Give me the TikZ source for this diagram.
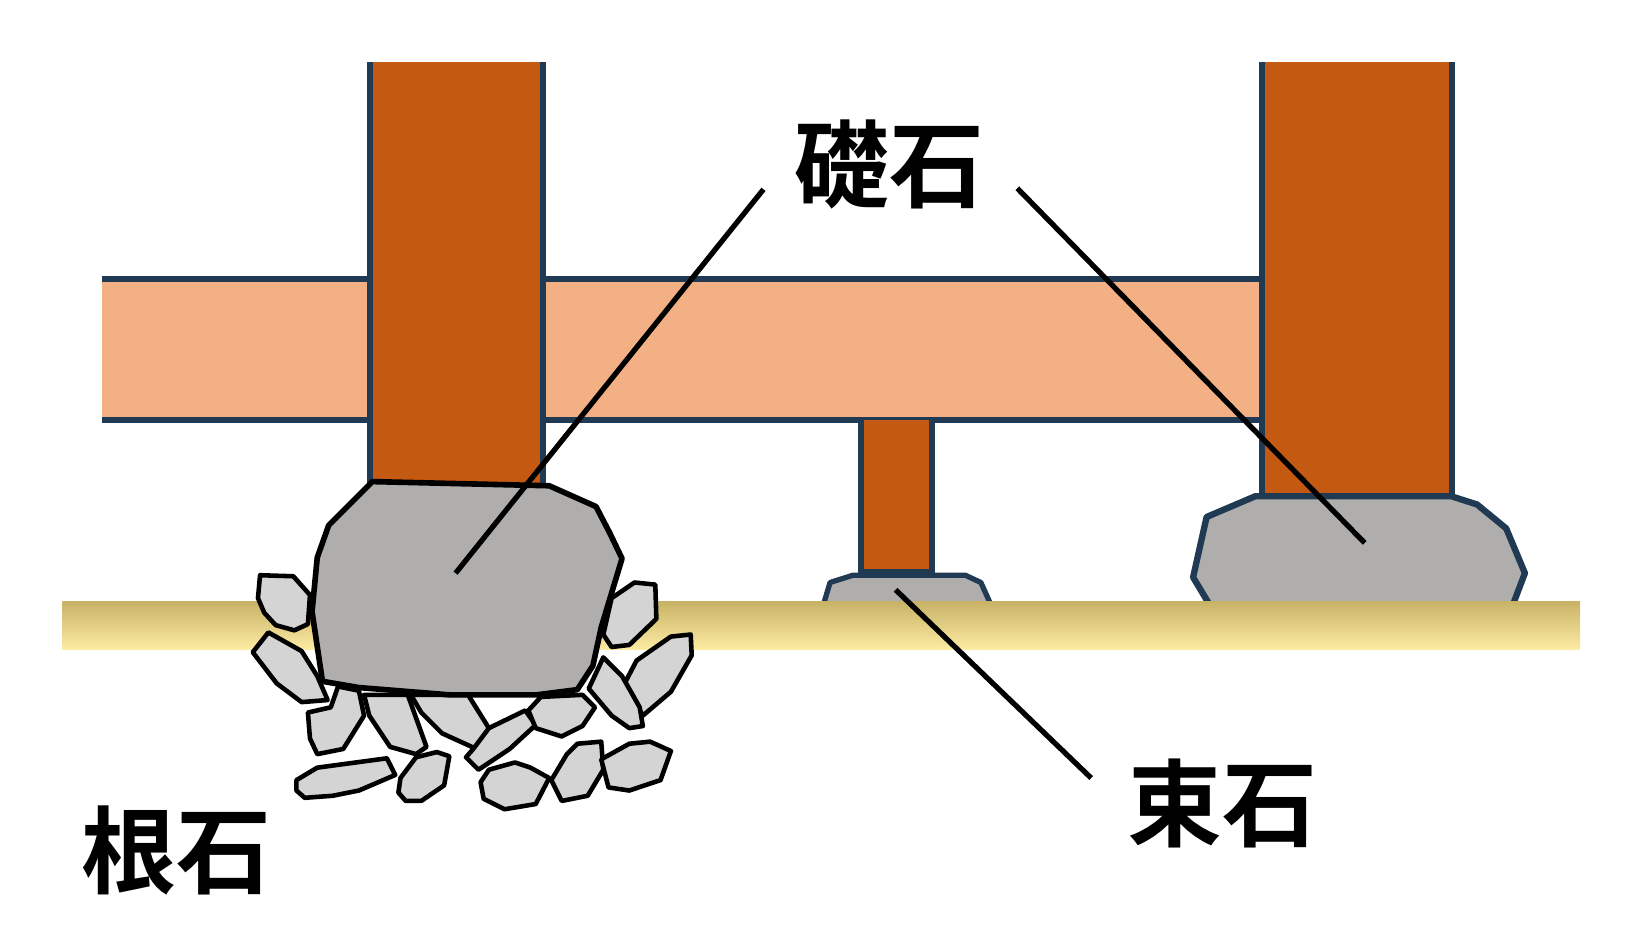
\documentclass[tikz,border=0pt]{standalone}
\usepackage{xcolor}
\usepackage{fontspec}
\newfontfamily\jpfont{Noto Sans CJK JP Bold}
\definecolor{navy}{HTML}{1F3A52}
\definecolor{wood}{HTML}{C45A12}
\definecolor{beamc}{HTML}{F3B085}
\definecolor{stonec}{HTML}{AFAEAD}
\definecolor{rubblec}{HTML}{D4D4D4}
\definecolor{soiltop}{HTML}{C8B266}
\definecolor{soilbot}{HTML}{FCEBA2}
\tikzset{
  edge/.style={navy, line width=3.6pt},
  rubble/.style={fill=rubblec, draw=black, line width=2.6pt, line join=round},
  leader/.style={black, line width=3pt},
  label/.style={font=\jpfont\fontsize{54}{54}\selectfont, inner sep=0pt}
}
\begin{document}
\begin{tikzpicture}[x=0.0208cm, y=-0.0208cm]
          \useasboundingbox (0,0) rectangle (1568,908);

          % beam
          \fill[beamc] (98,268) rectangle (1212,404);
          \draw[edge] (98,268) -- (1212,268);
          \draw[edge] (98,404) -- (1212,404);

          % posts
          \fill[wood] (356,60) rectangle (522,465);
          \draw[edge] (356,60) -- (356,465);
          \draw[edge] (522,60) -- (522,465);
          \fill[wood] (1213,60) rectangle (1396,480);
          \draw[edge] (1213,60) -- (1213,480);
          \draw[edge] (1396,60) -- (1396,480);
          \draw[edge, fill=wood] (828,404) -- (828,550) -- (896,550) -- (896,404);

          % stones under the ground line
          \draw[fill=stonec, draw=navy, line width=3pt, line join=round]
            (792,580) -- (798,560) -- (820,553) -- (928,553) -- (943,560) -- (952,580);
          \draw[fill=stonec, draw=navy, line width=3.6pt, line join=round]
            (1162,580) -- (1147,555) -- (1160,497) -- (1207,477) -- (1395,477)
            -- (1420,485) -- (1448,508) -- (1466,551) -- (1455,580);

          % ground
          \shade[top color=soiltop, bottom color=soilbot] (60,578) rectangle (1519,624);

          % rubble
          \draw[rubble] (250,553) -- (282,554) -- (298,572) -- (296,600) -- (283,606) -- (265,601) -- (254,589) -- (248,575) -- cycle;
          \draw[rubble] (243,627) -- (258,608) -- (290,626) -- (305,650) -- (315,673) -- (290,675) -- (266,657) -- cycle;
          \draw[rubble] (296,685) -- (318,680) -- (325,660) -- (345,664) -- (350,688) -- (330,720) -- (305,725) -- (298,710) -- cycle;
          \draw[rubble] (285,750) -- (305,738) -- (372,729) -- (380,745) -- (345,760) -- (320,765) -- (293,767) -- (285,760) -- cycle;
          \draw[rubble] (350,668) -- (392,668) -- (410,718) -- (400,725) -- (375,718) -- (355,688) -- cycle;
          \draw[rubble] (385,748) -- (400,728) -- (420,723) -- (432,727) -- (427,755) -- (405,770) -- (390,770) -- (383,762) -- cycle;
          \draw[rubble] (395,668) -- (450,668) -- (470,700) -- (458,720) -- (425,705) -- (405,685) -- cycle;
          \draw[rubble] (448,728) -- (455,720) -- (470,700) -- (505,683) -- (515,697) -- (490,720) -- (460,740) -- cycle;
          \draw[rubble] (462,752) -- (470,740) -- (495,733) -- (510,738) -- (528,748) -- (515,773) -- (485,778) -- (465,768) -- cycle;
          \draw[rubble] (508,683) -- (520,670) -- (560,668) -- (572,680) -- (560,698) -- (540,708) -- (515,700) -- cycle;
          \draw[rubble] (530,750) -- (545,725) -- (555,715) -- (578,713) -- (580,740) -- (565,765) -- (540,770) -- cycle;
          \draw[rubble] (578,730) -- (605,715) -- (625,713) -- (645,722) -- (635,750) -- (605,760) -- (585,757) -- cycle;
          \draw[rubble] (600,658) -- (612,635) -- (645,612) -- (664,610) -- (665,630) -- (645,665) -- (618,688) -- cycle;
          \draw[rubble] (566,662) -- (580,632) -- (598,650) -- (615,680) -- (618,698) -- (605,700) -- (588,688) -- cycle;
          \draw[rubble] (588,575) -- (610,560) -- (630,562) -- (631,595) -- (605,620) -- (588,622) -- (580,610) -- cycle;

          % big stone
          \draw[fill=stonec, draw=black, line width=3.2pt, line join=round]
            (358,463) -- (528,467) -- (573,487) -- (586,512) -- (598,537) -- (588,570)
            -- (578,603) -- (570,640) -- (555,663) -- (516,668) -- (432,668)
            -- (345,661) -- (310,655) -- (300,588) -- (305,536) -- (316,505) -- cycle;

          % labels and leaders
          \node[label] (soseki) at (855,158) {礎石};
          \node[label] (tsukaishi) at (1175,772) {束石};
          \node[label] (neishi) at (170,818) {根石};

          \coordinate (la) at (734,182);
          \coordinate (lb) at (438,551);
          \coordinate (ra) at (978,181);
          \coordinate (rb) at (1312,522);
          \coordinate (ma) at (861,567);
          \coordinate (mb) at (1049,748);
          \draw[leader] (la) -- (lb);
          \draw[leader] (ra) -- (rb);
          \draw[leader] (ma) -- (mb);

          \end{tikzpicture}
\end{document}
